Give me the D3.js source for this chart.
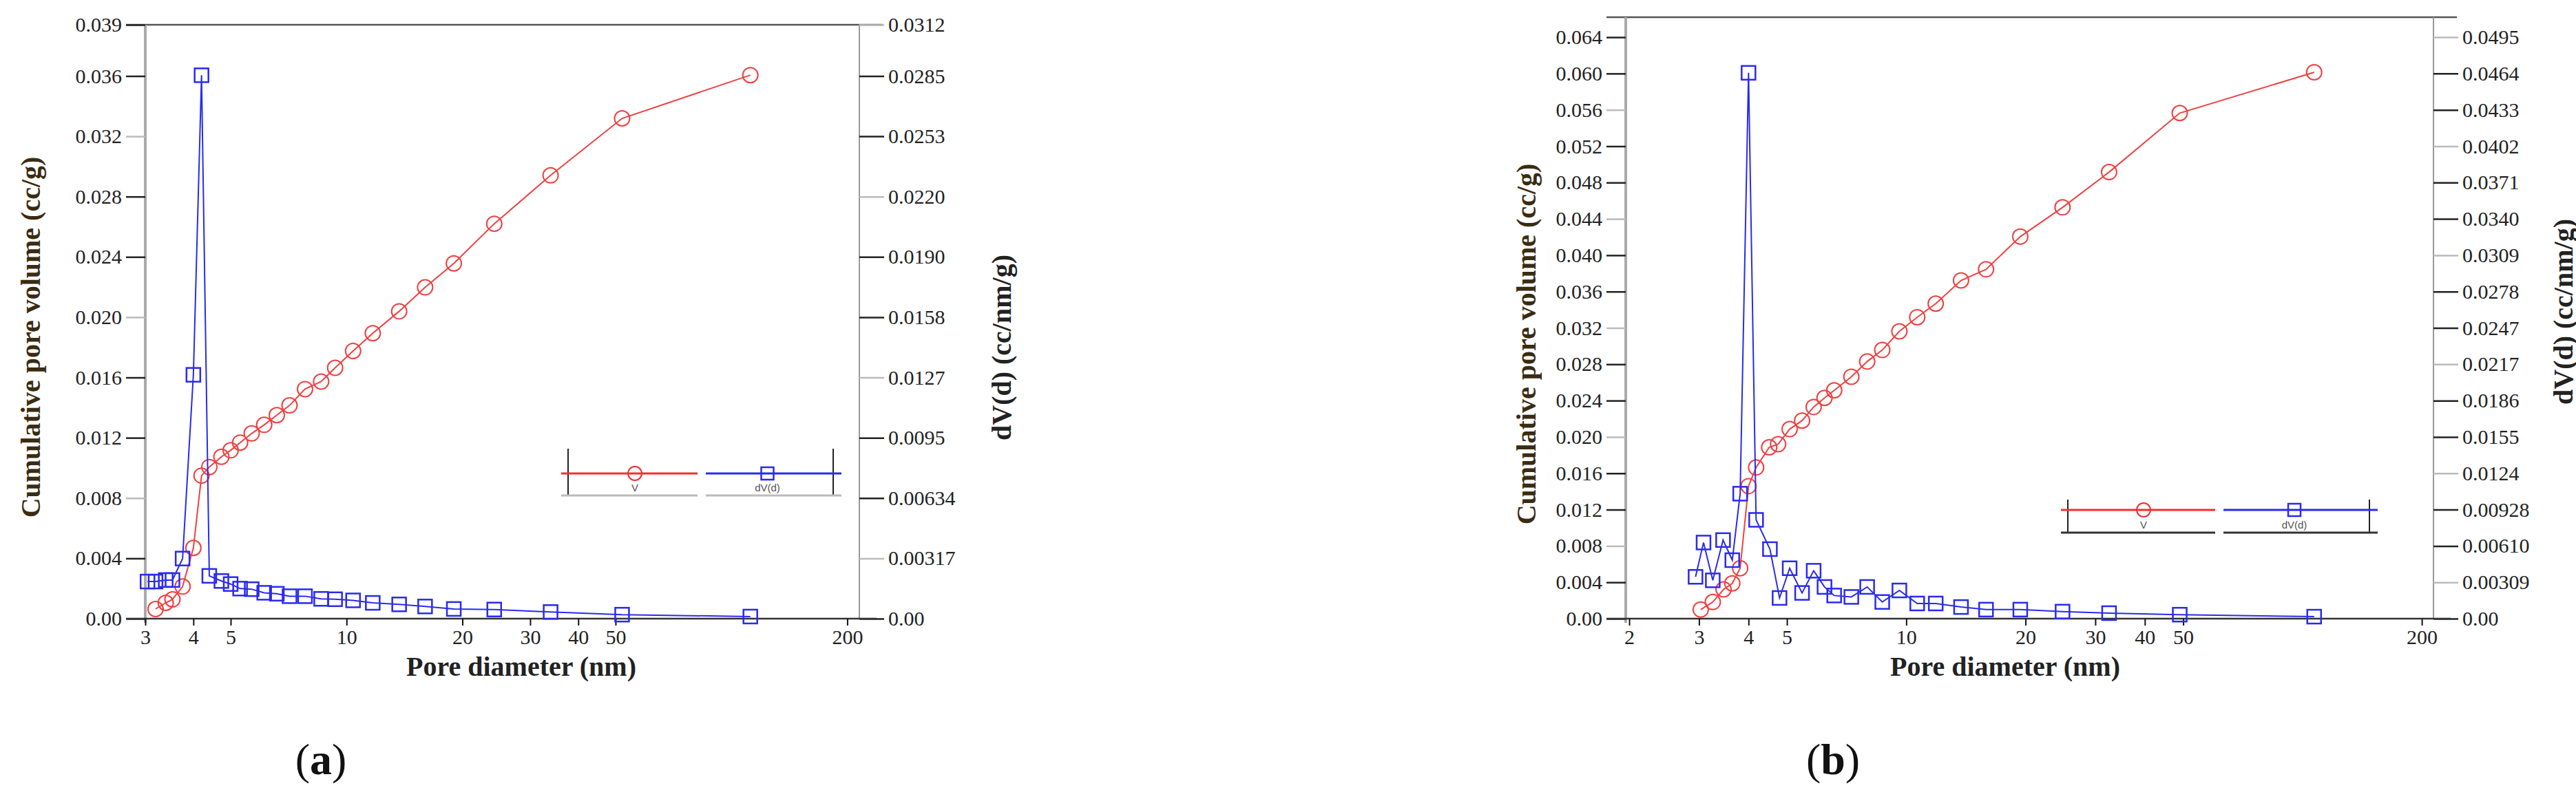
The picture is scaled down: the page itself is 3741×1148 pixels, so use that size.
<!DOCTYPE html>
<html><head><meta charset="utf-8">
<script src="https://cdn.jsdelivr.net/npm/d3@7"></script>
<style>body{margin:0;background:#fff}</style></head>
<body><svg id="c" width="3741" height="1148"></svg>
<script>
// Panel (a)
const aVx = [3.19,3.39,3.53,3.75,4.00,4.20,4.40,4.73,5.00,5.29,5.67,6.11,6.59,7.11,7.80,8.59,9.34,10.4,11.7,13.7,16.0,19.0,24.2,33.9,52.0,112];
const aV  = [0.00064,0.00105,0.00128,0.00213,0.00469,0.00949,0.01006,0.01074,0.01117,0.01168,0.01229,0.01286,0.01350,0.01415,0.01523,0.01573,0.01664,0.01776,0.01894,0.02039,0.02198,0.02357,0.02620,0.02941,0.03319,0.03606];
const aDx = [3.04,3.19,3.39,3.53,3.75,4.00,4.20,4.40,4.73,5.00,5.29,5.67,6.11,6.59,7.11,7.80,8.59,9.34,10.4,11.7,13.7,16.0,19.0,24.2,33.9,52.0,112];
const aD  = [0.00195,0.00195,0.00203,0.00203,0.00316,0.01282,0.02857,0.00225,0.00198,0.00182,0.00158,0.00155,0.00136,0.00131,0.00118,0.00118,0.00104,0.00102,0.00096,0.00083,0.00075,0.00064,0.00051,0.00048,0.00035,0.00021,0.00011];
const aLeftTicks = [0,0.004,0.008,0.012,0.016,0.020,0.024,0.028,0.032,0.036,0.0394];
const aLeftLabels = ["0.00","0.004","0.008","0.012","0.016","0.020","0.024","0.028","0.032","0.036","0.039"];
const aRightLabels = ["0.00","0.00317","0.00634","0.0095","0.0127","0.0158","0.0190","0.0220","0.0253","0.0285","0.0312"];
// Panel (b)
const bVx = [3.03,3.25,3.46,3.64,3.81,4.00,4.18,4.51,4.75,5.08,5.46,5.84,6.22,6.58,7.27,7.97,8.70,9.61,10.66,11.87,13.75,15.9,19.4,24.8,32.5,49.0,107];
const bV  = [0.0010,0.00183,0.00322,0.00388,0.00555,0.01459,0.01664,0.01886,0.0192,0.02086,0.0218,0.0233,0.0243,0.02513,0.02663,0.0283,0.02957,0.03162,0.03318,0.03467,0.03723,0.03845,0.04205,0.04527,0.04915,0.05565,0.06014];
const bDx = [2.94,3.08,3.25,3.45,3.64,3.81,4.00,4.18,4.53,4.79,5.08,5.46,5.84,6.22,6.58,7.27,7.97,8.70,9.61,10.66,11.87,13.75,15.9,19.4,24.8,32.5,49.0,107];
const bD  = [0.00356,0.00648,0.00326,0.00669,0.00498,0.01064,0.04647,0.00841,0.00592,0.00176,0.00429,0.00219,0.00408,0.0027,0.00197,0.00185,0.0027,0.00142,0.0024,0.00129,0.00129,0.00099,0.00077,0.00077,0.0006,0.00047,0.00034,0.00017];
const bLeftTicks = [0,0.004,0.008,0.012,0.016,0.020,0.024,0.028,0.032,0.036,0.040,0.044,0.048,0.052,0.056,0.060,0.064];
const bLeftLabels = ["0.00","0.004","0.008","0.012","0.016","0.020","0.024","0.028","0.032","0.036","0.040","0.044","0.048","0.052","0.056","0.060","0.064"];
const bRightLabels = ["0.00","0.00309","0.00610","0.00928","0.0124","0.0155","0.0186","0.0217","0.0247","0.0278","0.0309","0.0340","0.0371","0.0402","0.0433","0.0464","0.0495"];
const aXTicks = [3,4,5,10,20,30,40,50,200];
const bXTicks = [2,3,4,5,10,20,30,40,50,200];

const svg = d3.select("#c");
const SERIF = "'Liberation Serif','DejaVu Serif',serif";

function panel(o){
  const g = svg.append("g");
  const x = d3.scaleLog().domain(o.xd).range([o.L,o.R]);
  const y = d3.scaleLinear().domain([0,o.ymax]).range([o.B,o.T]);
  const yr = d3.scaleLinear().domain([0,o.ymax*o.ratio]).range([o.B,o.T]);
  g.append("line").attr("x1",o.L-28).attr("x2",o.R+34).attr("y1",o.T).attr("y2",o.T).attr("stroke","#555").attr("stroke-width",2.5);
  g.append("line").attr("x1",o.L).attr("x2",o.L).attr("y1",o.T).attr("y2",o.B+6).attr("stroke","#aaa").attr("stroke-width",4);
  g.append("line").attr("x1",o.R).attr("x2",o.R).attr("y1",o.T).attr("y2",o.B).attr("stroke","#999").attr("stroke-width",2);
  const la = g.append("g").attr("transform",`translate(${o.L},0)`)
    .call(d3.axisLeft(y).tickValues(o.lt).tickFormat((d,i)=>o.ll[i]).tickSize(28).tickPadding(6));
  la.select(".domain").remove();
  la.selectAll("line").attr("stroke",(d,i)=>i%3==2?"#bbb":"#222").attr("stroke-width",2.5);
  la.selectAll("text").attr("font-family",SERIF).attr("font-size",30).attr("fill","#222");
  const rv = o.lt.map(v=>v*o.ratio);
  const ra = g.append("g").attr("transform",`translate(${o.R},0)`)
    .call(d3.axisRight(yr).tickValues(rv).tickFormat((d,i)=>o.rl[i]).tickSize(36).tickPadding(6));
  ra.select(".domain").remove();
  ra.selectAll("line").attr("stroke",(d,i)=>i%3==1?"#bbb":"#222").attr("stroke-width",2.5);
  ra.selectAll("text").attr("font-family",SERIF).attr("font-size",30).attr("fill","#222");
  g.append("line").attr("x1",o.L-28).attr("x2",o.R+25).attr("y1",o.B).attr("y2",o.B).attr("stroke","#333").attr("stroke-width",2.5);
  const ba = g.append("g").attr("transform",`translate(0,${o.B})`)
    .call(d3.axisBottom(x).tickValues(o.xt).tickFormat(d3.format("d")).tickSize(10).tickPadding(6));
  ba.select(".domain").remove();
  ba.selectAll("line").attr("stroke","#111").attr("stroke-width",2);
  ba.selectAll("text").attr("font-family",SERIF).attr("font-size",30).attr("fill","#222");
  const line = d3.line();
  const vp = o.vx.map((d,i)=>[x(d),y(o.v[i])]);
  g.append("path").attr("d",line(vp)).attr("fill","none").attr("stroke","#f04040").attr("stroke-width",2);
  g.selectAll(null).data(vp).enter().append("circle").attr("cx",d=>d[0]).attr("cy",d=>d[1]).attr("r",11)
    .attr("fill","none").attr("stroke","#f04040").attr("stroke-width",2);
  const dp = o.dx.map((d,i)=>[x(d),yr(o.d[i])]);
  g.append("path").attr("d",line(dp)).attr("fill","none").attr("stroke","#2a2af0").attr("stroke-width",2);
  g.selectAll(null).data(dp).enter().append("rect").attr("x",d=>d[0]-10).attr("y",d=>d[1]-10).attr("width",20).attr("height",20)
    .attr("fill","none").attr("stroke","#2a2af0").attr("stroke-width",2.5);
  const tt = {"font-family":SERIF,"font-weight":"bold","font-size":40,"text-anchor":"middle"};
  function T(sel){for(const k in tt) sel.attr(k,tt[k]); return sel;}
  T(g.append("text")).attr("x",o.xlab[0]).attr("y",o.xlab[1]).attr("fill","#222").text("Pore diameter (nm)");
  T(g.append("text")).attr("transform",`translate(${o.ylab[0]},${o.ylab[1]}) rotate(-90)`).attr("fill","#3a2c12").text("Cumulative pore volume (cc/g)");
  T(g.append("text")).attr("transform",`translate(${o.rlab[0]},${o.rlab[1]}) rotate(-90)`).attr("fill","#222").text("dV(d) (cc/nm/g)");
  const p = g.append("text").attr("x",o.plab[0]).attr("y",o.plab[1]).attr("font-family",SERIF).attr("font-size",64).attr("text-anchor","middle").attr("fill","#111");
  p.append("tspan").text("(");
  p.append("tspan").attr("font-weight","bold").text(o.letter);
  p.append("tspan").text(")");
  const lg = o.leg;
  g.append("line").attr("x1",lg.x0).attr("x2",lg.x0).attr("y1",lg.y0).attr("y2",lg.y1).attr("stroke","#222").attr("stroke-width",2);
  g.append("line").attr("x1",lg.x3).attr("x2",lg.x3).attr("y1",lg.y0).attr("y2",lg.y1).attr("stroke","#222").attr("stroke-width",2);
  g.append("line").attr("x1",lg.x0-10).attr("x2",lg.xm-6).attr("y1",lg.yl).attr("y2",lg.yl).attr("stroke","#f03030").attr("stroke-width",3);
  g.append("line").attr("x1",lg.xm+6).attr("x2",lg.x3+12).attr("y1",lg.yl).attr("y2",lg.yl).attr("stroke","#2a2af0").attr("stroke-width",3);
  const c1=(lg.x0+lg.xm)/2, c2=(lg.xm+lg.x3)/2;
  g.append("circle").attr("cx",c1).attr("cy",lg.yl).attr("r",10).attr("fill","none").attr("stroke","#f03030").attr("stroke-width",2);
  g.append("rect").attr("x",c2-9).attr("y",lg.yl-9).attr("width",18).attr("height",18).attr("fill","none").attr("stroke","#2a2af0").attr("stroke-width",2.5);
  g.append("line").attr("x1",lg.x0-10).attr("x2",lg.xm-6).attr("y1",lg.y1).attr("y2",lg.y1).attr("stroke",lg.uc).attr("stroke-width",3);
  g.append("line").attr("x1",lg.xm+6).attr("x2",lg.x3+12).attr("y1",lg.y1).attr("y2",lg.y1).attr("stroke",lg.uc).attr("stroke-width",3);
  g.append("text").attr("x",c1).attr("y",lg.y1-6).attr("font-family","'Liberation Sans',sans-serif").attr("font-size",15).attr("text-anchor","middle").attr("fill","#555").text("V");
  g.append("text").attr("x",c2).attr("y",lg.y1-6).attr("font-family","'Liberation Sans',sans-serif").attr("font-size",15).attr("text-anchor","middle").attr("fill","#555").text("dV(d)");
}

panel({L:211,R:1248,T:36,B:899,xd:[3.0,215],ymax:0.0394,ratio:0.7925,lt:aLeftTicks,ll:aLeftLabels,rl:aRightLabels,xt:aXTicks,
  vx:aVx,v:aV,dx:aDx,d:aD,xlab:[757,982],ylab:[58,490],rlab:[1468,505],plab:[466,1125],letter:"a",
  leg:{x0:825,xm:1019,x3:1210,y0:652,y1:720,yl:688,uc:"#bbb"}});
panel({L:2361,R:3534,T:25,B:899,xd:[1.96,214],ymax:0.0662,ratio:0.7735,lt:bLeftTicks,ll:bLeftLabels,rl:bRightLabels,xt:bXTicks,
  vx:bVx,v:bV,dx:bDx,d:bD,xlab:[2912,982],ylab:[2230,500],rlab:[3736,453],plab:[2662,1125],letter:"b",
  leg:{x0:3003,xm:3223,x3:3441,y0:726,y1:774,yl:741,uc:"#333"}});
</script></body></html>
